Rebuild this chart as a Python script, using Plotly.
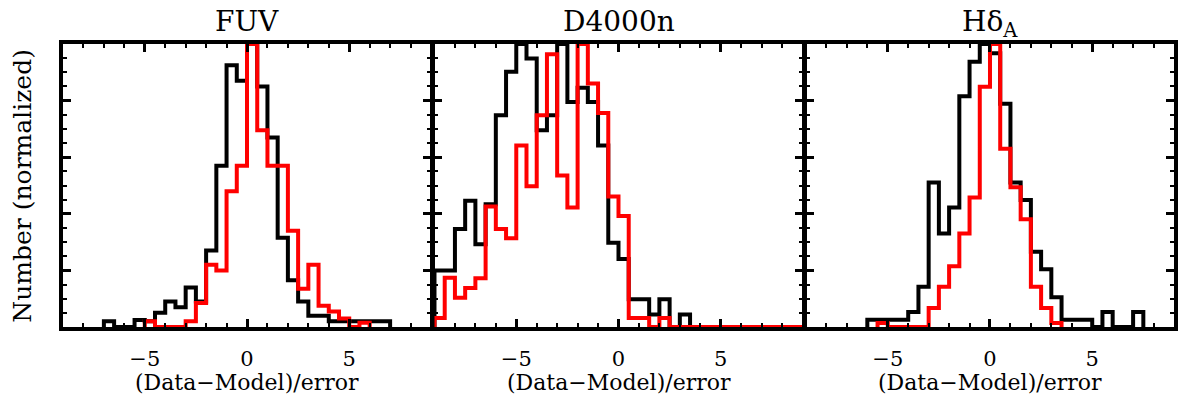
import numpy as np
import plotly.graph_objects as go

# Histogram bin width shared by all panels
BIN_WIDTH = 0.5

# FUV residual histograms (normalized counts per bin)
fuv_black_start = -7.0
fuv_black = [0.02, 0.0, 0.0, 0.025, 0.02, 0.05, 0.09, 0.07, 0.14, 0.09,
             0.27, 0.57, 0.925, 0.87, 1.0, 0.85, 0.67, 0.315, 0.165, 0.09,
             0.04, 0.04, 0.02, 0.02, 0.02, 0.02, 0.02, 0.02]
fuv_red_start = -5.0
fuv_red = [0.02, 0.0, 0.0, 0.0, 0.02, 0.085, 0.22, 0.2, 0.48, 0.57,
           1.0, 0.695, 0.57, 0.57, 0.34, 0.135, 0.22, 0.075, 0.055, 0.03,
           0.0, 0.015]

# D4000n residual histograms
d4000_black_start = -9.0
d4000_black = [0.2, 0.2, 0.346, 0.446, 0.292, 0.434, 0.748, 0.902, 1.0, 0.949,
               0.695, 0.748, 1.0, 0.795, 0.845, 0.795, 0.641, 0.298, 0.24, 0.098,
               0.098, 0.044, 0.098, 0.0, 0.044, 0.0, 0.0, 0.0, 0.0, 0.0,
               0.0, 0.0, 0.0, 0.0, 0.0, 0.0]
d4000_red_start = -9.0
d4000_red = [0.032, 0.174, 0.103, 0.138, 0.172, 0.426, 0.346, 0.314, 0.641, 0.497,
             0.748, 0.964, 0.535, 0.422, 1.0, 0.86, 0.756, 0.461, 0.392, 0.032,
             0.032, 0.0, 0.032, 0.0, 0.0, 0.0, 0.0, 0.0, 0.0, 0.0,
             0.0, 0.0, 0.0, 0.0, 0.0, 0.0]

# H-delta_A residual histograms
hd_black_start = -6.0
hd_black = [0.026, 0.026, 0.026, 0.026, 0.053, 0.142, 0.511, 0.33, 0.422, 0.815,
            0.937, 1.0, 0.967, 0.789, 0.511, 0.449, 0.266, 0.204, 0.105, 0.026,
            0.026, 0.026, 0.0, 0.053, 0.0, 0.0, 0.053]
hd_red_start = -5.5
hd_red = [0.014, 0.0, 0.0, 0.0, 0.0, 0.067, 0.142, 0.215, 0.33, 0.458,
          0.849, 1.0, 0.63, 0.494, 0.381, 0.142, 0.067, 0.014]

panel_titles = ["FUV", "D4000n", "H\u03b4<sub>A</sub>"]
x_title = "(Data\u2212Model)/error"
y_title = "Number (normalized)"
x_tickvals = [-5, 0, 5]
x_ticktext = ["\u22125", "0", "5"]

panels = [
    ((fuv_black_start, fuv_black), (fuv_red_start, fuv_red)),
    ((d4000_black_start, d4000_black), (d4000_red_start, d4000_red)),
    ((hd_black_start, hd_black), (hd_red_start, hd_red)),
]

FONT = "DejaVu Serif"
W, H = 1182, 396
ML, MR, MT, MB = 63, 4, 44, 69
plot_w = W - ML - MR
plot_h = H - MT - MB
FRAME_W = 3.5

# small gap between panels so neighbouring frame lines land on the same pixels
gap = FRAME_W / plot_w
panel_w = (1 - 2 * gap) / 3


def step_xy(start, values):
    """Outline of a histogram: rises from zero at the first edge, falls back at the last."""
    values = np.asarray(values, dtype=float)
    n = len(values)
    edges = start + BIN_WIDTH * np.arange(n + 1)
    x = np.concatenate([[edges[0]], edges])
    y = np.concatenate([[0.0], values, [0.0]])
    return x, y


fig = go.Figure()

for i, ((bs, bv), (rs, rv)) in enumerate(panels):
    xa = "x" if i == 0 else f"x{i + 1}"
    ya = "y" if i == 0 else f"y{i + 1}"
    for start, vals, color in ((bs, bv, "black"), (rs, rv, "#ff0000")):
        x, y = step_xy(start, vals)
        fig.add_trace(go.Scatter(
            x=x, y=y, mode="lines",
            line=dict(color=color, width=4, shape="hv"),
            xaxis=xa, yaxis=ya, showlegend=False, hoverinfo="skip",
        ))

axis_common = dict(
    showline=True, linewidth=FRAME_W, linecolor="black", mirror="allticks",
    ticks="inside", ticklen=8, tickwidth=2.5, tickcolor="black",
    showgrid=False, zeroline=False,
)

for i in range(3):
    d0 = i * (panel_w + gap)
    dom = [d0, min(d0 + panel_w, 1.0)]
    xkey = "xaxis" if i == 0 else f"xaxis{i + 1}"
    ykey = "yaxis" if i == 0 else f"yaxis{i + 1}"
    yanchor_name = "y" if i == 0 else f"y{i + 1}"
    xanchor_name = "x" if i == 0 else f"x{i + 1}"
    fig.layout[xkey] = dict(
        domain=dom, range=[-9, 9], anchor=yanchor_name,
        tickvals=x_tickvals, ticktext=x_ticktext,
        tickfont=dict(family=FONT, size=21, color="black"),
        ticklabelstandoff=10,
        minor=dict(ticks="inside", dtick=1, ticklen=4, tickwidth=2, tickcolor="black"),
        **axis_common,
    )
    fig.layout[ykey] = dict(
        domain=[0, 1], range=[0, 1], anchor=xanchor_name,
        tickvals=[0.2, 0.4, 0.6, 0.8], showticklabels=False,
        minor=dict(ticks="inside", dtick=0.05, ticklen=4, tickwidth=2, tickcolor="black"),
        **axis_common,
    )
    cx = (dom[0] + dom[1]) / 2
    fig.add_annotation(
        text=panel_titles[i], x=cx, y=(plot_h + MT - 3) / plot_h,
        xref="paper", yref="paper", xanchor="center", yanchor="top",
        showarrow=False, font=dict(family=FONT, size=28, color="black"),
    )
    fig.add_annotation(
        text=x_title, x=cx, y=-(382 - (MT + plot_h)) / plot_h,
        xref="paper", yref="paper", xanchor="center", yanchor="middle",
        showarrow=False, font=dict(family=FONT, size=22, color="black"),
    )

fig.add_annotation(
    text=y_title, x=(22 - ML) / plot_w, y=0.5,
    xref="paper", yref="paper", xanchor="center", yanchor="middle",
    textangle=-90, showarrow=False, font=dict(family=FONT, size=25, color="black"),
)

fig.update_layout(
    width=W, height=H,
    margin=dict(l=ML, r=MR, t=MT, b=MB),
    paper_bgcolor="white", plot_bgcolor="white",
)

fig.write_html("out.html")
